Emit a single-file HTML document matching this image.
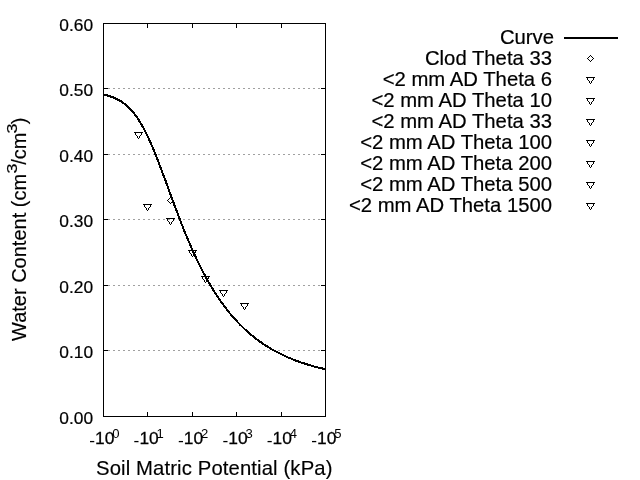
<!DOCTYPE html>
<html><head><meta charset="utf-8"><style>
html,body{margin:0;padding:0;background:#fff;width:640px;height:480px;overflow:hidden}
svg{display:block;will-change:transform}
text{font-family:"Liberation Sans",sans-serif;fill:#000}
.serif text{font-family:"Liberation Serif",serif}
</style></head><body>
<svg width="640" height="480" viewBox="0 0 640 480">
<rect width="640" height="480" fill="#fff"/>
<line x1="103" y1="350.5" x2="325" y2="350.5" stroke="#a0a0a0" stroke-width="1" stroke-dasharray="2 3" shape-rendering="crispEdges"/><line x1="103" y1="285.5" x2="325" y2="285.5" stroke="#a0a0a0" stroke-width="1" stroke-dasharray="2 3" shape-rendering="crispEdges"/><line x1="103" y1="219.5" x2="325" y2="219.5" stroke="#a0a0a0" stroke-width="1" stroke-dasharray="2 3" shape-rendering="crispEdges"/><line x1="103" y1="154.5" x2="325" y2="154.5" stroke="#a0a0a0" stroke-width="1" stroke-dasharray="2 3" shape-rendering="crispEdges"/><line x1="103" y1="88.5" x2="325" y2="88.5" stroke="#a0a0a0" stroke-width="1" stroke-dasharray="2 3" shape-rendering="crispEdges"/>
<g stroke="#000" stroke-width="1" shape-rendering="crispEdges">
<rect x="103.5" y="23.5" width="222" height="393" fill="none"/>
<line x1="103" y1="416.5" x2="108" y2="416.5"/><line x1="321" y1="416.5" x2="325" y2="416.5"/><line x1="103" y1="350.5" x2="108" y2="350.5"/><line x1="321" y1="350.5" x2="325" y2="350.5"/><line x1="103" y1="285.5" x2="108" y2="285.5"/><line x1="321" y1="285.5" x2="325" y2="285.5"/><line x1="103" y1="219.5" x2="108" y2="219.5"/><line x1="321" y1="219.5" x2="325" y2="219.5"/><line x1="103" y1="154.5" x2="108" y2="154.5"/><line x1="321" y1="154.5" x2="325" y2="154.5"/><line x1="103" y1="88.5" x2="108" y2="88.5"/><line x1="321" y1="88.5" x2="325" y2="88.5"/><line x1="103" y1="23.5" x2="108" y2="23.5"/><line x1="321" y1="23.5" x2="325" y2="23.5"/><line x1="103.5" y1="416" x2="103.5" y2="412"/><line x1="103.5" y1="23" x2="103.5" y2="28"/><line x1="147.5" y1="416" x2="147.5" y2="412"/><line x1="147.5" y1="23" x2="147.5" y2="28"/><line x1="192.5" y1="416" x2="192.5" y2="412"/><line x1="192.5" y1="23" x2="192.5" y2="28"/><line x1="236.5" y1="416" x2="236.5" y2="412"/><line x1="236.5" y1="23" x2="236.5" y2="28"/><line x1="281.5" y1="416" x2="281.5" y2="412"/><line x1="281.5" y1="23" x2="281.5" y2="28"/><line x1="325.5" y1="416" x2="325.5" y2="412"/><line x1="325.5" y1="23" x2="325.5" y2="28"/>
</g>
<polyline points="103.0,94.5 105.2,94.9 107.4,95.5 109.7,96.2 111.9,96.9 114.1,97.8 116.3,98.8 118.5,99.9 120.8,101.2 123.0,102.7 125.2,104.3 127.4,106.2 129.6,108.4 131.9,110.8 134.1,113.4 136.3,116.4 138.5,119.6 140.7,123.2 143.0,127.1 145.2,131.3 147.4,135.7 149.6,140.5 151.8,145.6 154.1,150.8 156.3,156.3 158.5,162.0 160.7,167.9 162.9,173.8 165.2,179.8 167.4,185.9 169.6,192.0 171.8,198.0 174.0,204.0 176.3,210.0 178.5,215.9 180.7,221.6 182.9,227.3 185.1,232.8 187.4,238.2 189.6,243.4 191.8,248.5 194.0,253.4 196.2,258.2 198.5,262.9 200.7,267.3 202.9,271.7 205.1,275.8 207.3,279.9 209.6,283.7 211.8,287.5 214.0,291.1 216.2,294.6 218.4,297.9 220.7,301.1 222.9,304.2 225.1,307.2 227.3,310.1 229.5,312.9 231.8,315.5 234.0,318.1 236.2,320.5 238.4,322.9 240.6,325.2 242.9,327.4 245.1,329.5 247.3,331.5 249.5,333.4 251.7,335.3 254.0,337.1 256.2,338.8 258.4,340.5 260.6,342.1 262.8,343.6 265.1,345.1 267.3,346.5 269.5,347.9 271.7,349.2 273.9,350.5 276.2,351.7 278.4,352.8 280.6,353.9 282.8,355.0 285.0,356.1 287.3,357.1 289.5,358.0 291.7,358.9 293.9,359.8 296.1,360.7 298.4,361.5 300.6,362.3 302.8,363.0 305.0,363.7 307.2,364.4 309.5,365.1 311.7,365.7 313.9,366.4 316.1,367.0 318.3,367.5 320.6,368.1 322.8,368.6 325.0,369.1" fill="none" stroke="#000" stroke-width="2" stroke-linejoin="round" shape-rendering="crispEdges"/>
<path transform="translate(134,132)" d="M0 0h9v1H0z M1 1h1v2H1z M7 1h1v2H7z M2 3h1v1H2z M6 3h1v1H6z M3 4h1v2H3z M5 4h1v2H5z M4 6h1v1H4z" fill="#000" shape-rendering="crispEdges"/><path transform="translate(143,204)" d="M0 0h9v1H0z M1 1h1v2H1z M7 1h1v2H7z M2 3h1v1H2z M6 3h1v1H6z M3 4h1v2H3z M5 4h1v2H5z M4 6h1v1H4z" fill="#000" shape-rendering="crispEdges"/><path transform="translate(166,218)" d="M0 0h9v1H0z M1 1h1v2H1z M7 1h1v2H7z M2 3h1v1H2z M6 3h1v1H6z M3 4h1v2H3z M5 4h1v2H5z M4 6h1v1H4z" fill="#000" shape-rendering="crispEdges"/><path transform="translate(167,197)" d="M3 0h1v1H3z M2 1h1v1H2z M4 1h1v1H4z M1 2h1v1H1z M5 2h1v1H5z M0 3h1v1H0z M6 3h1v1H6z M1 4h1v1H1z M5 4h1v1H5z M2 5h1v1H2z M4 5h1v1H4z M3 6h1v1H3z" fill="#000" shape-rendering="crispEdges"/><path transform="translate(188,250)" d="M0 0h9v1H0z M1 1h1v2H1z M7 1h1v2H7z M2 3h1v1H2z M6 3h1v1H6z M3 4h1v2H3z M5 4h1v2H5z M4 6h1v1H4z" fill="#000" shape-rendering="crispEdges"/><path transform="translate(201,276)" d="M0 0h9v1H0z M1 1h1v2H1z M7 1h1v2H7z M2 3h1v1H2z M6 3h1v1H6z M3 4h1v2H3z M5 4h1v2H5z M4 6h1v1H4z" fill="#000" shape-rendering="crispEdges"/><path transform="translate(219,290)" d="M0 0h9v1H0z M1 1h1v2H1z M7 1h1v2H7z M2 3h1v1H2z M6 3h1v1H6z M3 4h1v2H3z M5 4h1v2H5z M4 6h1v1H4z" fill="#000" shape-rendering="crispEdges"/><path transform="translate(240,303)" d="M0 0h9v1H0z M1 1h1v2H1z M7 1h1v2H7z M2 3h1v1H2z M6 3h1v1H6z M3 4h1v2H3z M5 4h1v2H5z M4 6h1v1H4z" fill="#000" shape-rendering="crispEdges"/>
<g font-size="16" stroke="#000" stroke-width="0.2"><text x="59.3" y="423.6" textLength="33.76" lengthAdjust="spacingAndGlyphs">0.00</text><text x="59.3" y="357.6" textLength="33.76" lengthAdjust="spacingAndGlyphs">0.10</text><text x="59.3" y="292.6" textLength="33.76" lengthAdjust="spacingAndGlyphs">0.20</text><text x="59.3" y="226.6" textLength="33.76" lengthAdjust="spacingAndGlyphs">0.30</text><text x="59.3" y="161.6" textLength="33.76" lengthAdjust="spacingAndGlyphs">0.40</text><text x="59.3" y="95.6" textLength="33.76" lengthAdjust="spacingAndGlyphs">0.50</text><text x="59.3" y="30.6" textLength="33.76" lengthAdjust="spacingAndGlyphs">0.60</text></g>
<g font-size="16"><text transform="translate(89.20,444) scale(1.09,1)"><tspan dy="2">-</tspan><tspan dy="-2" stroke="#000" stroke-width="0.25">10</tspan><tspan font-size="12" dx="-2" dy="-6">0</tspan></text><text transform="translate(133.60,444) scale(1.09,1)"><tspan dy="2">-</tspan><tspan dy="-2" stroke="#000" stroke-width="0.25">10</tspan><tspan font-size="12" dx="-2" dy="-6">1</tspan></text><text transform="translate(178.00,444) scale(1.09,1)"><tspan dy="2">-</tspan><tspan dy="-2" stroke="#000" stroke-width="0.25">10</tspan><tspan font-size="12" dx="-2" dy="-6">2</tspan></text><text transform="translate(222.40,444) scale(1.09,1)"><tspan dy="2">-</tspan><tspan dy="-2" stroke="#000" stroke-width="0.25">10</tspan><tspan font-size="12" dx="-2" dy="-6">3</tspan></text><text transform="translate(266.80,444) scale(1.09,1)"><tspan dy="2">-</tspan><tspan dy="-2" stroke="#000" stroke-width="0.25">10</tspan><tspan font-size="12" dx="-2" dy="-6">4</tspan></text><text transform="translate(311.20,444) scale(1.09,1)"><tspan dy="2">-</tspan><tspan dy="-2" stroke="#000" stroke-width="0.25">10</tspan><tspan font-size="12" dx="-2" dy="-6">5</tspan></text></g>
<text x="96" y="475" font-size="20.3" letter-spacing="0.12" stroke="#000" stroke-width="0.15">Soil Matric Potential (kPa)</text>
<g font-size="20" stroke="#000" stroke-width="0.15">
<text transform="translate(26,341) rotate(-90)">Water Content (cm</text>
<text transform="translate(17.3,173.5) rotate(-90) scale(1.2,1)" font-size="15">3</text>
<text transform="translate(26,164.8) rotate(-90)">/cm</text>
<text transform="translate(17.3,133.4) rotate(-90) scale(1.2,1)" font-size="15">3</text>
<text transform="translate(26,124.3) rotate(-90)">)</text>
</g>
<g font-size="20.3"><text x="554" y="44" text-anchor="end" stroke="#000" stroke-width="0.2">Curve</text><line x1="564" y1="38" x2="618" y2="38" stroke="#000" stroke-width="2"/><text x="552" y="65" text-anchor="end" stroke="#000" stroke-width="0.2">Clod Theta 33</text><text x="552" y="86" text-anchor="end" stroke="#000" stroke-width="0.2">&lt;2 mm AD Theta 6</text><text x="552" y="107" text-anchor="end" stroke="#000" stroke-width="0.2">&lt;2 mm AD Theta 10</text><text x="552" y="128" text-anchor="end" stroke="#000" stroke-width="0.2">&lt;2 mm AD Theta 33</text><text x="552" y="149" text-anchor="end" stroke="#000" stroke-width="0.2">&lt;2 mm AD Theta 100</text><text x="552" y="170" text-anchor="end" stroke="#000" stroke-width="0.2">&lt;2 mm AD Theta 200</text><text x="552" y="191" text-anchor="end" stroke="#000" stroke-width="0.2">&lt;2 mm AD Theta 500</text><text x="552" y="212" text-anchor="end" stroke="#000" stroke-width="0.2">&lt;2 mm AD Theta 1500</text><path transform="translate(587,55)" d="M3 0h1v1H3z M2 1h1v1H2z M4 1h1v1H4z M1 2h1v1H1z M5 2h1v1H5z M0 3h1v1H0z M6 3h1v1H6z M1 4h1v1H1z M5 4h1v1H5z M2 5h1v1H2z M4 5h1v1H4z M3 6h1v1H3z" fill="#000" shape-rendering="crispEdges"/><path transform="translate(586,77)" d="M0 0h9v1H0z M1 1h1v2H1z M7 1h1v2H7z M2 3h1v1H2z M6 3h1v1H6z M3 4h1v2H3z M5 4h1v2H5z M4 6h1v1H4z" fill="#000" shape-rendering="crispEdges"/><path transform="translate(586,98)" d="M0 0h9v1H0z M1 1h1v2H1z M7 1h1v2H7z M2 3h1v1H2z M6 3h1v1H6z M3 4h1v2H3z M5 4h1v2H5z M4 6h1v1H4z" fill="#000" shape-rendering="crispEdges"/><path transform="translate(586,119)" d="M0 0h9v1H0z M1 1h1v2H1z M7 1h1v2H7z M2 3h1v1H2z M6 3h1v1H6z M3 4h1v2H3z M5 4h1v2H5z M4 6h1v1H4z" fill="#000" shape-rendering="crispEdges"/><path transform="translate(586,140)" d="M0 0h9v1H0z M1 1h1v2H1z M7 1h1v2H7z M2 3h1v1H2z M6 3h1v1H6z M3 4h1v2H3z M5 4h1v2H5z M4 6h1v1H4z" fill="#000" shape-rendering="crispEdges"/><path transform="translate(586,161)" d="M0 0h9v1H0z M1 1h1v2H1z M7 1h1v2H7z M2 3h1v1H2z M6 3h1v1H6z M3 4h1v2H3z M5 4h1v2H5z M4 6h1v1H4z" fill="#000" shape-rendering="crispEdges"/><path transform="translate(586,182)" d="M0 0h9v1H0z M1 1h1v2H1z M7 1h1v2H7z M2 3h1v1H2z M6 3h1v1H6z M3 4h1v2H3z M5 4h1v2H5z M4 6h1v1H4z" fill="#000" shape-rendering="crispEdges"/><path transform="translate(586,203)" d="M0 0h9v1H0z M1 1h1v2H1z M7 1h1v2H7z M2 3h1v1H2z M6 3h1v1H6z M3 4h1v2H3z M5 4h1v2H5z M4 6h1v1H4z" fill="#000" shape-rendering="crispEdges"/></g>
</svg>
</body></html>
